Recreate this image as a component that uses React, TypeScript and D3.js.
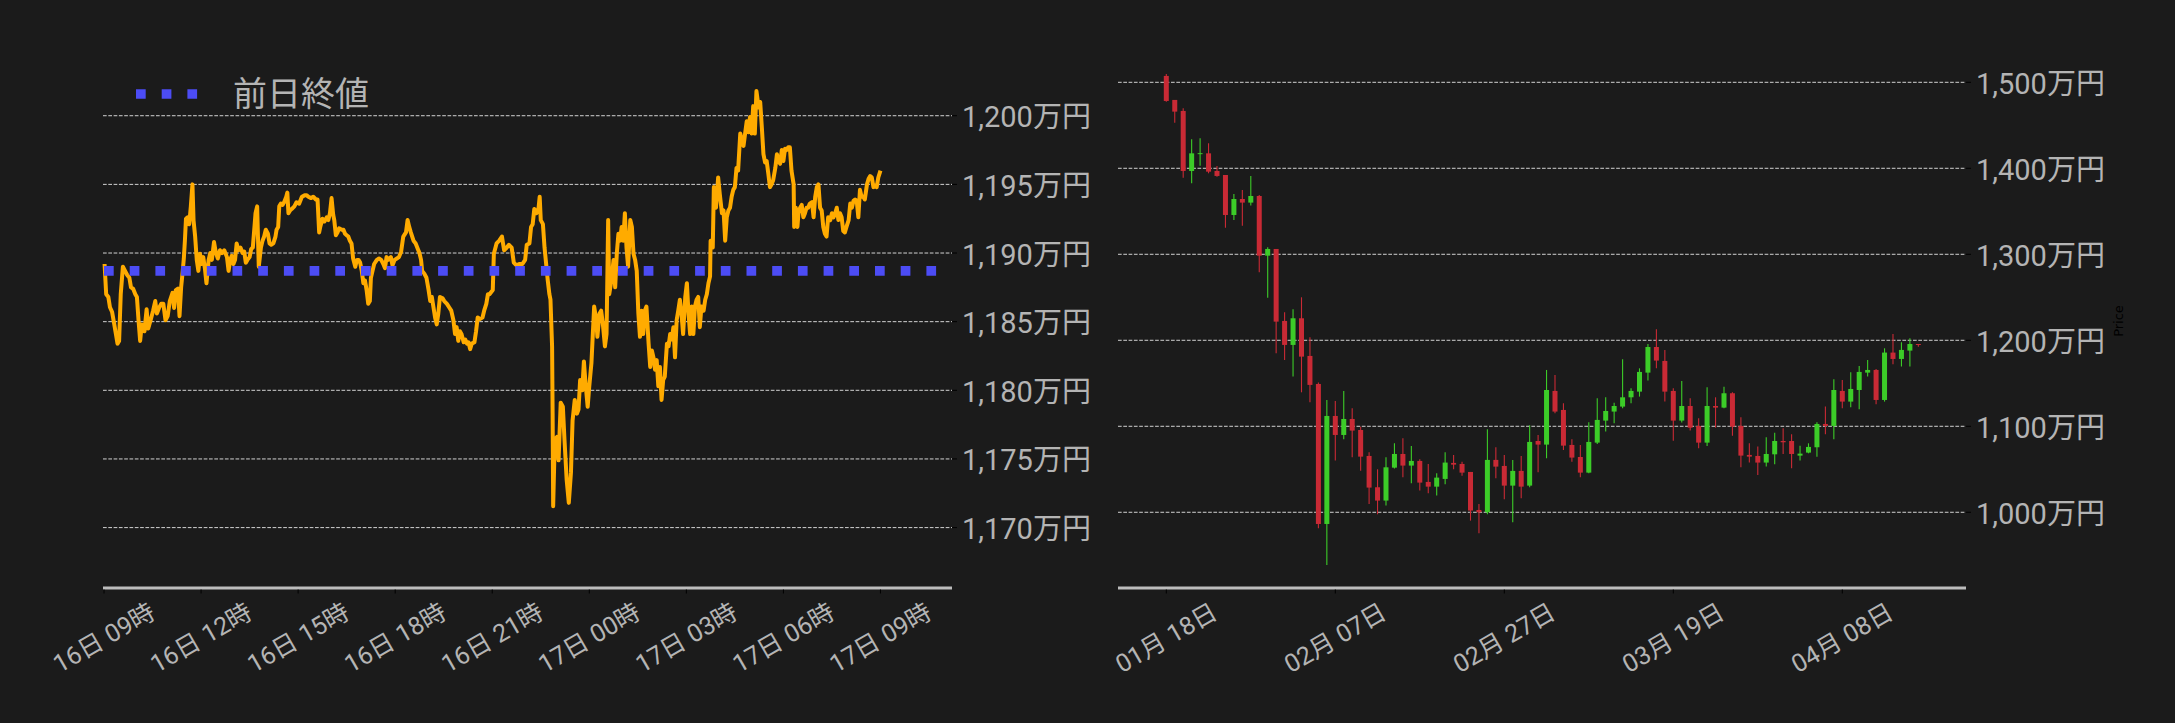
import { useEffect, useRef } from "react";
import * as d3 from "d3";

// ── Intraday data (16日 09時 → 17日 09時) ─────────────────────────────────────
// [minutes since 16日 09:00, price in 万円]
const intradayStart = new Date(2025, 3, 16, 9, 0);
const intradayPoints: [number, number][] = [
  [1, 1189.2], [4, 1187.0], [8, 1186.8], [11, 1186.05], [15, 1185.7], [19, 1184.8], [22, 1184.1], [25, 1183.4],
  [28, 1183.6], [31, 1187.0], [35, 1189.0], [39, 1188.7], [43, 1188.4], [47, 1188.2], [50, 1187.5], [54, 1187.4],
  [58, 1187.0], [61, 1186.8], [64, 1185.1], [67, 1183.6], [70, 1184.8], [75, 1184.3], [79, 1185.9], [82, 1184.5],
  [87, 1185.2], [91, 1185.8], [95, 1186.5], [98, 1185.6], [102, 1186.0], [106, 1186.3], [110, 1186.3], [114, 1185.1],
  [118, 1185.4], [122, 1186.5], [127, 1187.1], [130, 1186.0], [133, 1187.3], [137, 1187.4], [140, 1185.4], [143, 1187.5],
  [146, 1188.7], [148, 1189.6], [150, 1190.9], [152, 1192.5], [155, 1192.6], [158, 1192.1], [161, 1193.4], [164, 1195.0],
  [166, 1192.4], [169, 1191.2], [172, 1189.5], [175, 1188.7], [178, 1189.95], [181, 1189.2], [184, 1189.7], [187, 1188.9],
  [190, 1187.8], [194, 1189.5], [197, 1190.0], [200, 1189.5], [204, 1190.8], [207, 1190.1], [211, 1189.6], [215, 1190.2],
  [219, 1190.0], [223, 1190.2], [228, 1189.7], [231, 1188.7], [234, 1189.5], [237, 1189.8], [240, 1189.2], [243, 1189.5],
  [246, 1190.7], [249, 1190.2], [253, 1190.4], [257, 1190.0], [260, 1190.1], [263, 1189.3], [266, 1189.5], [270, 1189.7],
  [273, 1190.3], [276, 1190.4], [279, 1191.9], [281, 1192.9], [284, 1193.4], [287, 1189.0], [291, 1190.4], [294, 1190.9],
  [297, 1191.2], [300, 1191.7], [304, 1191.4], [307, 1190.7], [310, 1190.6], [314, 1190.7], [318, 1191.2], [320, 1191.7],
  [323, 1191.9], [325, 1193.4], [328, 1193.6], [331, 1193.5], [334, 1193.7], [338, 1194.1], [340, 1194.4], [342, 1192.9],
  [345, 1193.1], [348, 1193.2], [353, 1193.4], [357, 1193.7], [362, 1193.6], [367, 1194.1], [372, 1194.2], [376, 1194.2],
  [379, 1194.1], [384, 1194.0], [388, 1194.1], [393, 1193.9], [396, 1193.9], [399, 1191.5], [401, 1191.9], [405, 1192.5],
  [409, 1192.3], [413, 1192.6], [416, 1192.4], [419, 1192.9], [422, 1194.0], [425, 1192.8], [427, 1192.4], [430, 1191.3],
  [433, 1191.5], [436, 1191.8], [441, 1191.7], [444, 1191.7], [447, 1191.4], [450, 1191.3], [453, 1191.2], [456, 1190.9],
  [459, 1190.7], [462, 1189.6], [466, 1189.0], [469, 1189.5], [472, 1189.5], [475, 1189.3], [478, 1188.7], [481, 1187.8],
  [484, 1188.0], [487, 1187.3], [490, 1186.3], [493, 1186.5], [495, 1188.2], [498, 1188.7], [501, 1189.2], [506, 1189.5],
  [510, 1189.6], [514, 1189.5], [518, 1189.2], [521, 1188.9], [524, 1189.7], [527, 1189.5], [532, 1189.7], [535, 1189.1],
  [539, 1189.5], [543, 1189.6], [547, 1189.7], [551, 1190.1], [555, 1191.2], [560, 1191.5], [563, 1192.4], [566, 1191.9],
  [569, 1191.5], [574, 1190.9], [578, 1190.7], [582, 1190.3], [585, 1190.0], [588, 1189.5], [590, 1188.7], [594, 1188.5],
  [598, 1188.2], [602, 1187.3], [605, 1186.5], [608, 1186.8], [611, 1186.05], [614, 1185.3], [617, 1184.8], [620, 1185.6],
  [623, 1186.8], [628, 1186.7], [631, 1186.5], [636, 1186.3], [640, 1186.05], [644, 1185.8], [648, 1185.1], [651, 1184.1],
  [654, 1184.6], [657, 1183.6], [660, 1184.3], [663, 1184.1], [667, 1183.5], [670, 1183.7], [673, 1183.4], [676, 1183.5],
  [679, 1183.0], [682, 1183.4], [687, 1183.5], [690, 1184.3], [693, 1185.3], [697, 1185.2], [702, 1185.3], [705, 1185.8],
  [709, 1186.3], [712, 1187.0], [715, 1187.0], [721, 1187.3], [723, 1189.95], [728, 1190.7], [733, 1190.9], [738, 1191.2],
  [742, 1190.2], [747, 1190.4], [751, 1190.6], [756, 1190.4], [760, 1189.3], [765, 1189.1], [770, 1189.2], [776, 1189.2],
  [781, 1189.5], [784, 1190.6], [789, 1190.7], [792, 1191.9], [795, 1192.1], [798, 1193.2], [802, 1192.9], [806, 1193.3],
  [808, 1194.1], [810, 1192.4], [814, 1192.1], [817, 1190.4], [820, 1189.2], [823, 1188.0], [826, 1187.0], [828, 1186.6],
  [831, 1183.2], [832, 1178.3], [833, 1171.55], [836, 1176.4], [840, 1176.6], [843, 1174.9], [847, 1179.1], [851, 1178.8],
  [854, 1176.4], [858, 1173.5], [862, 1171.8], [866, 1174.0], [869, 1177.8], [873, 1179.3], [877, 1178.3], [880, 1178.6],
  [883, 1180.75], [887, 1180.0], [890, 1182.1], [893, 1180.5], [897, 1178.8], [900, 1180.3], [904, 1182.0], [909, 1186.1],
  [913, 1185.1], [915, 1183.9], [919, 1185.6], [922, 1185.8], [925, 1184.9], [929, 1183.2], [932, 1184.1], [935, 1192.4],
  [937, 1187.0], [941, 1188.0], [945, 1189.5], [948, 1187.5], [951, 1189.95], [954, 1191.4], [957, 1190.9], [960, 1191.9],
  [963, 1190.9], [966, 1192.9], [969, 1190.4], [972, 1189.0], [976, 1192.4], [979, 1191.9], [982, 1189.95], [985, 1189.5],
  [988, 1188.7], [991, 1185.6], [994, 1183.9], [997, 1185.8], [1000, 1184.1], [1003, 1185.8], [1006, 1186.1], [1010, 1183.4],
  [1013, 1181.7], [1016, 1182.9], [1019, 1182.4], [1022, 1181.5], [1025, 1182.2], [1028, 1180.3], [1031, 1181.7], [1034, 1179.3],
  [1037, 1180.75], [1040, 1181.0], [1044, 1183.4], [1047, 1183.2], [1050, 1184.1], [1053, 1183.7], [1056, 1184.6], [1059, 1182.4],
  [1062, 1185.1], [1065, 1185.8], [1068, 1186.6], [1071, 1185.6], [1074, 1184.1], [1078, 1186.8], [1081, 1187.8], [1084, 1185.6],
  [1087, 1184.1], [1090, 1186.1], [1093, 1184.1], [1096, 1186.1], [1099, 1186.6], [1102, 1186.8], [1105, 1184.6], [1108, 1186.1],
  [1112, 1185.8], [1115, 1186.6], [1118, 1187.0], [1121, 1187.8], [1124, 1188.3], [1125, 1190.9], [1129, 1190.4], [1131, 1194.8],
  [1135, 1193.3], [1139, 1195.5], [1142, 1194.3], [1146, 1192.9], [1149, 1193.1], [1152, 1190.9], [1155, 1192.6], [1158, 1193.1],
  [1161, 1193.3], [1164, 1194.1], [1167, 1194.6], [1170, 1194.8], [1173, 1196.2], [1176, 1196.0], [1180, 1198.7], [1183, 1198.2],
  [1186, 1197.8], [1189, 1198.7], [1192, 1199.6], [1195, 1198.8], [1198, 1199.9], [1201, 1198.7], [1204, 1200.7], [1207, 1198.7],
  [1210, 1201.8], [1214, 1200.6], [1217, 1201.0], [1220, 1199.15], [1223, 1197.2], [1226, 1196.6], [1229, 1196.7], [1232, 1195.8],
  [1235, 1194.8], [1238, 1195.0], [1241, 1195.3], [1245, 1196.2], [1248, 1197.2], [1251, 1196.7], [1254, 1196.5], [1257, 1197.5],
  [1260, 1196.7], [1263, 1197.6], [1266, 1197.5], [1269, 1197.7], [1272, 1197.7], [1275, 1196.0], [1279, 1195.0], [1280, 1191.9],
  [1283, 1193.3], [1286, 1191.9], [1288, 1192.9], [1291, 1193.3], [1294, 1193.5], [1297, 1192.6], [1300, 1192.9], [1303, 1193.3],
  [1306, 1193.3], [1309, 1193.6], [1313, 1193.7], [1316, 1192.6], [1319, 1194.1], [1322, 1194.8], [1325, 1195.0], [1328, 1193.3],
  [1331, 1193.1], [1334, 1191.9], [1337, 1191.4], [1340, 1191.2], [1343, 1192.6], [1347, 1192.4], [1350, 1192.9], [1353, 1192.6],
  [1356, 1192.9], [1359, 1193.3], [1362, 1192.4], [1365, 1192.9], [1368, 1192.6], [1371, 1191.6], [1374, 1191.5], [1377, 1191.9],
  [1381, 1192.4], [1384, 1193.6], [1387, 1193.3], [1390, 1193.8], [1393, 1193.9], [1396, 1193.8], [1399, 1192.6], [1402, 1194.6],
  [1405, 1194.1], [1408, 1194.1], [1411, 1193.9], [1415, 1195.0], [1418, 1195.4], [1421, 1195.6], [1424, 1195.5], [1427, 1194.8],
  [1430, 1194.9], [1433, 1194.8], [1436, 1195.5], [1440, 1196.0],
];
const prevClose = 1188.7;
const intradayYTicks = [1170, 1175, 1180, 1185, 1190, 1195, 1200];

// ── Daily candles (01月18日 → 04月17日), 万円 ──────────────────────────────────
const candleStart = new Date(2025, 0, 18);
const candleOpen = [
  1507.4, 1479.5, 1466.7, 1396.9, 1417.2, 1417.4, 1396.9, 1392.2, 1345.7, 1364.3,
  1360.1, 1367.8, 1298.4, 1306.2, 1222.5, 1194.6, 1225.6, 1181.8, 1149.2, 986.4,
  1112.0, 1089.9, 1108.5, 1095.7, 1065.5, 1029.1, 1013.6, 1051.9, 1067.8, 1054.3,
  1059.7, 1035.3, 1029.8, 1038.8, 1057.4, 1056.2, 1046.9, 1002.7, 1000.0, 1060.9,
  1053.9, 1031.0, 1048.1, 1031.0, 1082.9, 1078.7, 1141.1, 1119.0, 1078.3, 1064.3,
  1046.1, 1081.0, 1106.6, 1117.1, 1122.9, 1133.7, 1140.3, 1162.4, 1192.2, 1176.0,
  1141.1, 1106.6, 1123.6, 1100.4, 1081.0, 1123.6, 1121.7, 1138.4, 1100.4, 1066.7,
  1065.5, 1057.8, 1067.4, 1082.9, 1082.9, 1065.9, 1069.4, 1075.6, 1102.7, 1100.4,
  1141.1, 1128.7, 1142.2, 1162.4, 1165.5, 1130.6, 1185.7, 1178.3, 1188.0, 1195.7,
];
const candleHigh = [
  1509.7, 1479.5, 1469.8, 1433.7, 1434.9, 1429.1, 1402.7, 1392.2, 1370.2, 1374.8,
  1391.1, 1369.0, 1308.1, 1306.2, 1232.6, 1236.0, 1250.0, 1203.5, 1150.8, 1130.6,
  1129.5, 1141.1, 1120.9, 1099.6, 1069.8, 1050.0, 1064.0, 1080.2, 1086.0, 1077.1,
  1061.6, 1056.2, 1045.3, 1069.8, 1066.7, 1058.9, 1046.9, 1009.7, 1096.5, 1075.6,
  1066.7, 1060.9, 1065.5, 1101.2, 1089.9, 1165.5, 1159.7, 1126.7, 1084.9, 1078.3,
  1104.7, 1132.6, 1133.7, 1127.5, 1177.9, 1144.2, 1167.4, 1195.7, 1212.8, 1188.8,
  1144.2, 1152.7, 1132.6, 1109.3, 1145.3, 1133.7, 1146.1, 1139.5, 1110.5, 1080.2,
  1076.4, 1087.2, 1092.6, 1097.7, 1090.7, 1077.5, 1080.2, 1104.7, 1122.9, 1154.7,
  1153.9, 1162.8, 1170.2, 1177.1, 1166.7, 1190.7, 1207.4, 1197.7, 1202.3, 1195.7,
];
const candleLow = [
  1477.5, 1453.1, 1389.1, 1382.6, 1403.1, 1394.2, 1390.3, 1331.0, 1339.9, 1333.3,
  1356.6, 1279.1, 1249.6, 1184.9, 1177.1, 1157.8, 1139.5, 1127.9, 981.4, 938.8,
  1060.1, 1084.9, 1063.9, 1048.4, 1009.7, 997.7, 1007.8, 1050.8, 1040.7, 1033.7,
  1025.2, 1022.1, 1019.4, 1032.6, 1050.0, 1042.6, 990.3, 975.6, 997.7, 1039.5,
  1015.1, 988.4, 1016.3, 1029.1, 1046.5, 1062.8, 1115.1, 1072.5, 1058.9, 1040.7,
  1045.3, 1079.5, 1093.8, 1103.5, 1120.9, 1126.7, 1134.5, 1153.1, 1167.4, 1128.7,
  1083.3, 1104.3, 1095.0, 1074.4, 1077.1, 1098.4, 1120.9, 1089.1, 1052.3, 1057.8,
  1043.4, 1053.1, 1055.8, 1067.8, 1051.2, 1060.1, 1068.6, 1064.7, 1090.7, 1084.9,
  1120.9, 1122.1, 1119.8, 1157.8, 1125.6, 1128.7, 1172.1, 1169.4, 1169.4, 1192.6,
];
const candleClose = [
  1478.3, 1465.9, 1396.9, 1417.4, 1417.6, 1396.1, 1391.1, 1345.7, 1364.3, 1360.1,
  1367.8, 1298.4, 1306.2, 1221.7, 1194.6, 1225.6, 1181.0, 1148.1, 986.4, 1112.0,
  1089.9, 1108.5, 1095.0, 1064.7, 1028.7, 1013.6, 1052.3, 1067.8, 1054.3, 1059.7,
  1034.5, 1029.8, 1040.3, 1057.8, 1055.4, 1046.1, 1002.0, 1000.0, 1060.9, 1053.1,
  1031.0, 1048.1, 1029.8, 1081.8, 1078.7, 1142.2, 1117.1, 1077.5, 1063.6, 1046.1,
  1081.8, 1107.4, 1117.8, 1123.6, 1133.7, 1141.1, 1163.2, 1192.2, 1176.4, 1140.3,
  1106.6, 1123.6, 1098.4, 1081.0, 1123.6, 1121.7, 1138.4, 1099.6, 1065.9, 1064.7,
  1057.8, 1067.8, 1082.9, 1081.4, 1067.8, 1068.2, 1076.0, 1102.7, 1100.4, 1142.2,
  1128.7, 1143.4, 1163.2, 1165.5, 1130.6, 1185.7, 1178.3, 1188.8, 1195.7, 1194.6,
];
const candleYTicks = [1000, 1100, 1200, 1300, 1400, 1500];
const candleTickDays = [0, 20, 40, 60, 80];

// ── Styling ────────────────────────────────────────────────────────────────────
const BG = "#1b1b1b";
const FONT = "Roboto, 'Noto Sans CJK JP', sans-serif";
const TEXT = "#b4b4b4";
const GRID = "#d2d2d2";
const AXIS = "#bdbdbd";
const ORANGE = "#ffab00";
const BLUE = "#4c4cf5";
const UP = "#3ccc28";
const DOWN = "#c92a35";

const W = 2175;
const H = 723;
const AXIS_Y = 588;
const LABEL_Y = 638;

const yenFmt = (v: number) => `${d3.format(",")(v)}万円`;

export default function App() {
  const svgRef = useRef<SVGSVGElement>(null);

  useEffect(() => {
    if (!svgRef.current) return;
    const svg = d3.select(svgRef.current);
    svg.selectAll("*").remove();

    // shared bits: grid + right-side labels + bottom axis
    const drawFrame = (
      x0: number,
      x1: number,
      y: d3.ScaleLinear<number, number>,
      yTicks: number[],
      xTicks: { x: number; label: string }[]
    ) => {
      const g = svg.append("g");
      g.selectAll(".grid")
        .data(yTicks)
        .enter()
        .append("line")
        .attr("x1", x0)
        .attr("x2", x1)
        .attr("y1", (d) => y(d))
        .attr("y2", (d) => y(d))
        .attr("stroke", GRID)
        .attr("stroke-width", 1)
        .attr("stroke-dasharray", "3.7 1.6");
      g.selectAll(".ytick")
        .data(yTicks)
        .enter()
        .append("line")
        .attr("x1", x1)
        .attr("x2", x1 + 5)
        .attr("y1", (d) => y(d))
        .attr("y2", (d) => y(d))
        .attr("stroke", "#000");
      g.selectAll(".ylab")
        .data(yTicks)
        .enter()
        .append("text")
        .attr("x", x1 + 10)
        .attr("y", (d) => y(d) + 1.5)
        .attr("dominant-baseline", "central")
        .attr("fill", TEXT)
        .attr("font-size", 29)
        .attr("font-family", FONT)
        .text((d) => yenFmt(d));

      g.append("line")
        .attr("x1", x0)
        .attr("x2", x1)
        .attr("y1", AXIS_Y)
        .attr("y2", AXIS_Y)
        .attr("stroke", AXIS)
        .attr("stroke-width", 3);
      g.selectAll(".xtick")
        .data(xTicks)
        .enter()
        .append("line")
        .attr("x1", (d) => d.x)
        .attr("x2", (d) => d.x)
        .attr("y1", AXIS_Y + 1.5)
        .attr("y2", AXIS_Y + 5.5)
        .attr("stroke", "#000");
      g.selectAll(".xlab")
        .data(xTicks)
        .enter()
        .append("text")
        .attr("transform", (d) => `translate(${d.x},${LABEL_Y}) rotate(-30)`)
        .attr("text-anchor", "middle")
        .attr("dominant-baseline", "central")
        .attr("fill", TEXT)
        .attr("font-size", 25)
        .attr("font-family", FONT)
        .text((d) => d.label);
      return g;
    };

    // ── Left: intraday line ────────────────────────────────────────────────────
    const minute = (m: number) => d3.timeMinute.offset(intradayStart, m);
    const xL = d3
      .scaleTime()
      .domain([new Date(+intradayStart - 1.9 * 60000), new Date(+intradayStart + 1572.7 * 60000)])
      .range([103, 952]);
    const yL = d3.scaleLinear().domain([1165.6, 1204.3]).range([AXIS_Y, 56.7]);
    const fmtHour = d3.timeFormat("%d日 %H時");
    const leftTicks = xL.ticks(d3.timeHour.every(3)!).map((t) => ({ x: xL(t), label: fmtHour(t) }));
    drawFrame(103, 952, yL, intradayYTicks, leftTicks);

    const line = d3
      .line<[number, number]>()
      .x((d) => xL(minute(d[0])))
      .y((d) => yL(d[1]));
    svg
      .append("path")
      .datum(intradayPoints)
      .attr("d", line)
      .attr("fill", "none")
      .attr("stroke", ORANGE)
      .attr("stroke-width", 4)
      .attr("stroke-linejoin", "round");

    svg
      .append("line")
      .attr("x1", 104)
      .attr("x2", 952)
      .attr("y1", yL(prevClose))
      .attr("y2", yL(prevClose))
      .attr("stroke", BLUE)
      .attr("stroke-width", 9.7)
      .attr("stroke-dasharray", "9.7 16");

    // legend
    const leg = svg.append("g");
    leg.append("line")
      .attr("x1", 136)
      .attr("x2", 198)
      .attr("y1", 94)
      .attr("y2", 94)
      .attr("stroke", BLUE)
      .attr("stroke-width", 9.7)
      .attr("stroke-dasharray", "9.7 16");
    leg.append("text")
      .attr("x", 233)
      .attr("y", 94)
      .attr("dominant-baseline", "central")
      .attr("fill", TEXT)
      .attr("font-size", 34)
      .attr("font-family", FONT)
      .text("前日終値");

    // ── Right: daily candles ───────────────────────────────────────────────────
    const day = (i: number) => d3.timeDay.offset(candleStart, i);
    const DAY_MS = 86400000;
    const xR = d3
      .scaleTime()
      .domain([new Date(+candleStart - 5.716 * DAY_MS), new Date(+candleStart + 94.64 * DAY_MS)])
      .range([1118, 1966]);
    const yR = d3.scaleLinear().domain([911.6, 1520]).range([588.3, 65.1]);
    const fmtDay = d3.timeFormat("%m月 %d日");
    const rightTicks = candleTickDays.map((i) => ({ x: xR(day(i)), label: fmtDay(day(i)) }));
    drawFrame(1118, 1966, yR, candleYTicks, rightTicks);

    const candles = candleOpen.map((o, i) => ({
      date: day(i),
      o,
      h: candleHigh[i],
      l: candleLow[i],
      c: candleClose[i],
    }));
    const cg = svg.append("g");
    cg.selectAll(".wick")
      .data(candles)
      .enter()
      .append("line")
      .attr("x1", (d) => xR(d.date))
      .attr("x2", (d) => xR(d.date))
      .attr("y1", (d) => yR(d.h))
      .attr("y2", (d) => yR(d.l))
      .attr("stroke", (d) => (d.c >= d.o ? UP : DOWN))
      .attr("stroke-width", 1.1);
    cg.selectAll(".body")
      .data(candles)
      .enter()
      .append("rect")
      .attr("x", (d) => xR(d.date) - 2.5)
      .attr("width", 5)
      .attr("y", (d) => yR(Math.max(d.o, d.c)))
      .attr("height", (d) => Math.max(1, Math.abs(yR(d.o) - yR(d.c))))
      .attr("fill", (d) => (d.c >= d.o ? UP : DOWN));

    // axis title on the far right
    svg
      .append("text")
      .attr("transform", "translate(2118,321) rotate(-90)")
      .attr("text-anchor", "middle")
      .attr("dominant-baseline", "central")
      .attr("fill", "#000")
      .attr("font-size", 13)
      .attr("font-family", "'DejaVu Sans', sans-serif")
      .text("Price");
  }, []);

  return (
    <div style={{ width: W, height: H, background: BG }}>
      <style>{`body{margin:0;background:${BG};}`}</style>
      <svg ref={svgRef} width={W} height={H} viewBox={`0 0 ${W} ${H}`} style={{ display: "block" }} />
    </div>
  );
}
